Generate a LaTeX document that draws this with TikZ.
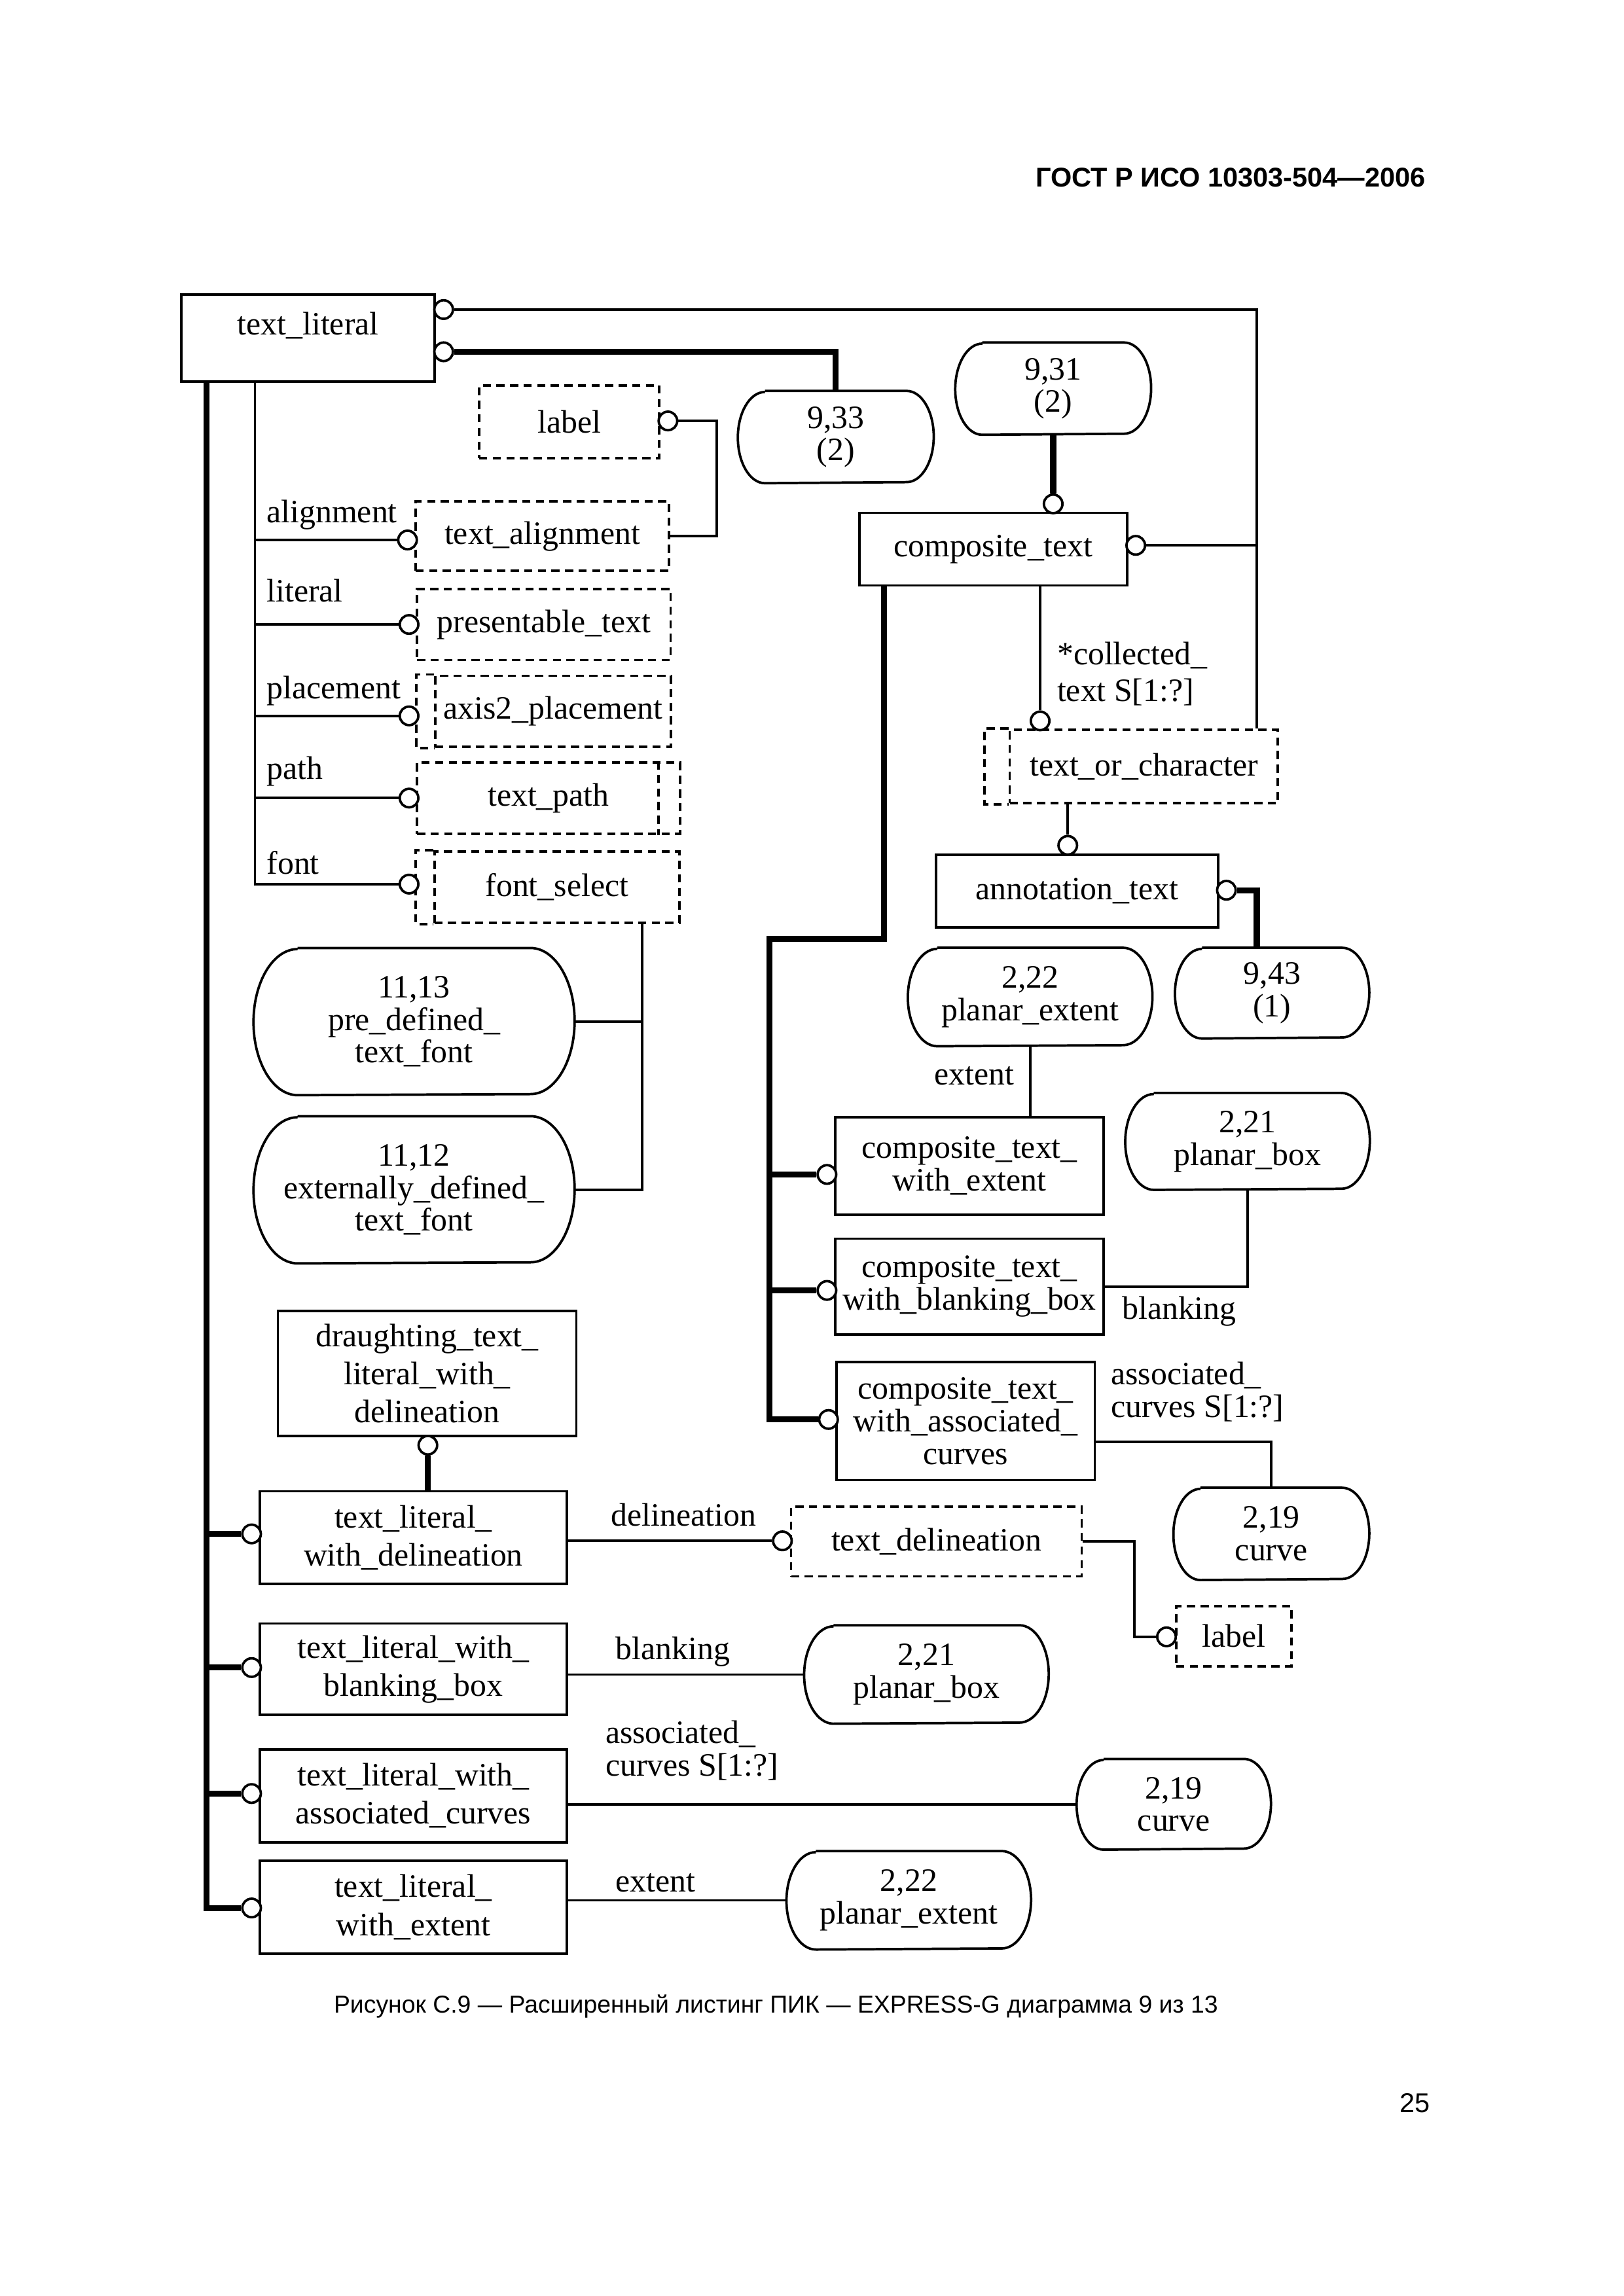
\documentclass[tikz,border=0pt]{standalone}
\usepackage{fontspec}
\setmainfont{Liberation Serif}
\newfontfamily\gostfont{Liberation Sans}
\usetikzlibrary{calc}
\tikzset{
  ent/.style={draw, line width=0.9pt, align=center, inner sep=0pt},
  typ/.style={draw, dash pattern=on 3pt off 2pt, line width=0.9pt, align=center, inner sep=0pt},
  typline/.style={dash pattern=on 3pt off 2pt, line width=0.9pt},
  extref/.style={align=center, inner sep=0pt},
  circ/.style={circle, draw, fill=white, line width=0.9pt, minimum size=0.24cm, inner sep=0pt},
  lbl/.style={inner sep=1pt, align=left},
  rel/.style={line width=0.9pt},
  inh/.style={line width=2.2pt},
}

\begin{document}
\begin{tikzpicture}[x=0.9937cm,y=0.9937cm,font=\fontsize{12}{12}\selectfont]
  \useasboundingbox (0,0) rectangle (21.133,-29.892);

  % page header, caption, page number
  \node[anchor=east, font=\gostfont\bfseries\fontsize{10}{12}\selectfont] (gost) at (18.68,-2.31) {ГОСТ Р ИСО 10303-504—2006};
  \node[font=\gostfont\fontsize{9}{11}\selectfont] (caption) at (10.10,-26.12) {Рисунок С.9 — Расширенный листинг ПИК — EXPRESS-G диаграмма 9 из 13};
  \node[font=\gostfont\fontsize{10}{12}\selectfont] (pagenum) at (18.42,-27.38) {25};

  % entities
  \node[ent, minimum width=3.28cm, minimum height=1.13cm, text depth=0.38cm] (tl) at (4.01,-4.40) {text\_literal};
  \node[ent, minimum width=3.46cm, minimum height=0.94cm] (ct) at (12.93,-7.15) {composite\_text};
  \node[ent, minimum width=3.65cm, minimum height=0.94cm] (annot) at (14.02,-11.60) {annotation\_text};
  \node[ent, minimum width=3.47cm, minimum height=1.26cm] (ctwe) at (12.62,-15.18) {composite\_text\_\\with\_extent};
  \node[ent, minimum width=3.47cm, minimum height=1.24cm] (ctwb) at (12.62,-16.75) {composite\_text\_\\with\_blanking\_box};
  \node[ent, minimum width=3.34cm, minimum height=1.53cm] (ctwa) at (12.57,-18.50) {composite\_text\_\\with\_associated\_\\curves};
  \node[ent, minimum width=3.86cm, minimum height=1.62cm] (dtl) at (5.56,-17.88) {draughting\_text\_\\[2pt]literal\_with\_\\[2pt]delineation};
  \node[ent, minimum width=3.97cm, minimum height=1.20cm] (tlwd) at (5.38,-20.02) {text\_literal\_\\[2pt]with\_delineation};
  \node[ent, minimum width=3.97cm, minimum height=1.18cm] (tlwb) at (5.38,-21.73) {text\_literal\_with\_\\[2pt]blanking\_box};
  \node[ent, minimum width=3.97cm, minimum height=1.20cm] (tlwa) at (5.38,-23.38) {text\_literal\_with\_\\[2pt]associated\_curves};
  \node[ent, minimum width=3.97cm, minimum height=1.20cm] (tlwe) at (5.38,-24.83) {text\_literal\_\\[2pt]with\_extent};

  % defined and select types
  \node[typ, minimum width=2.33cm, minimum height=0.94cm] (labA) at (7.41,-5.49) {label};
  \node[typ, minimum width=3.28cm, minimum height=0.90cm] (talign) at (7.06,-6.98) {text\_alignment};
  \node[typ, minimum width=3.28cm, minimum height=0.92cm] (ptext) at (7.08,-8.13) {presentable\_text};
  \node[typ, minimum width=3.05cm, minimum height=0.92cm] (a2p) at (7.20,-9.26) {axis2\_placement};
  \node[typ, minimum width=3.40cm, minimum height=0.92cm] (tpath) at (7.14,-10.39) {text\_path};
  \node[typ, minimum width=3.17cm, minimum height=0.92cm] (fsel) at (7.25,-11.55) {font\_select};
  \node[typ, minimum width=3.47cm, minimum height=0.95cm] (toc) at (14.89,-9.98) {text\_or\_character};
  \node[typ, minimum width=3.76cm, minimum height=0.90cm] (tdel) at (12.19,-20.07) {text\_delineation};
  \node[typ, minimum width=1.49cm, minimum height=0.78cm] (labB) at (16.06,-21.30) {label};
  \foreach \bx/\dx in {a2p/0.23, fsel/0.23, toc/0.31}
    \draw[typline] (\bx.north west) -- ++(-\dx,0) |- (\bx.south west);
  \draw[typline] ([xshift=-0.29cm]tpath.north east) -- ([xshift=-0.29cm]tpath.south east);

  % references to other pages
  \node[extref, minimum width=2.52cm, minimum height=1.18cm] (r933) at (10.88,-5.69) {9,33\\(2)};
  \node[extref, minimum width=2.52cm, minimum height=1.18cm] (r931) at (13.71,-5.06) {9,31\\(2)};
  \node[extref, minimum width=2.50cm, minimum height=1.16cm] (r943) at (16.56,-12.93) {9,43\\(1)};
  \node[extref, minimum width=3.15cm, minimum height=1.26cm] (r222a) at (13.41,-12.98) {2,22\\planar\_extent};
  \node[extref, minimum width=3.15cm, minimum height=1.24cm] (r221a) at (16.24,-14.86) {2,21\\planar\_box};
  \node[extref, minimum width=2.52cm, minimum height=1.18cm] (r219a) at (16.55,-19.97) {2,19\\curve};
  \node[extref, minimum width=4.14cm, minimum height=1.89cm] (r1113) at (5.39,-13.30) {11,13\\pre\_defined\_\\text\_font};
  \node[extref, minimum width=4.14cm, minimum height=1.89cm] (r1112) at (5.39,-15.49) {11,12\\externally\_defined\_\\text\_font};
  \node[extref, minimum width=3.15cm, minimum height=1.26cm] (r221b) at (12.06,-21.80) {2,21\\planar\_box};
  \node[extref, minimum width=2.50cm, minimum height=1.16cm] (r219b) at (15.28,-23.49) {2,19\\curve};
  \node[extref, minimum width=3.15cm, minimum height=1.26cm] (r222b) at (11.83,-24.74) {2,22\\planar\_extent};
  \foreach \bx/\rx/\ry in {r933/0.35/0.59, r931/0.35/0.59, r943/0.35/0.58, r222a/0.38/0.63,
      r221a/0.37/0.62, r219a/0.35/0.59, r1113/0.57/0.945, r1112/0.57/0.945,
      r221b/0.38/0.63, r219b/0.35/0.58, r222b/0.38/0.63}
    \draw[rel] ([xshift=\rx cm]\bx.north west) -- ([xshift=-\rx cm]\bx.north east)
      arc[start angle=90, end angle=-90, x radius=\rx cm, y radius=\ry cm]
      -- ([xshift=\rx cm]\bx.south west)
      arc[start angle=270, end angle=90, x radius=\rx cm, y radius=\ry cm];

  % relation circles
  \node[circ] (otla) at (5.775,-4.03) {};
  \node[circ] (otlb) at (5.775,-4.58) {};
  \node[circ] (octt) at (13.71,-6.56) {};
  \node[circ] (octr) at (14.785,-7.10) {};
  \node[circ] (otoc) at (13.54,-9.385) {};
  \node[circ] (oant) at (13.90,-11.005) {};
  \node[circ] (oanr) at (15.965,-11.59) {};
  \node[circ] (olab) at (8.695,-5.48) {};
  \node[circ] (oali) at (5.305,-7.03) {};
  \node[circ] (opte) at (5.325,-8.13) {};
  \node[circ] (oa2p) at (5.325,-9.32) {};
  \node[circ] (opat) at (5.325,-10.39) {};
  \node[circ] (ofse) at (5.325,-11.51) {};
  \node[circ] (octwe) at (10.765,-15.29) {};
  \node[circ] (octwb) at (10.765,-16.80) {};
  \node[circ] (octwa) at (10.785,-18.48) {};
  \node[circ] (odtl) at (5.57,-18.815) {};
  \node[circ] (otlwd) at (3.275,-19.97) {};
  \node[circ] (otlwb) at (3.275,-21.71) {};
  \node[circ] (otlwa) at (3.275,-23.35) {};
  \node[circ] (otlwe) at (3.275,-24.84) {};
  \node[circ] (otdel) at (10.185,-20.06) {};
  \node[circ] (olabB) at (15.185,-21.31) {};

  % bend points
  \coordinate (tocjoin) at ([xshift=-0.29cm]toc.north east);
  \coordinate (attrtop) at (3.32,-4.96);
  \coordinate (inhtop) at (2.69,-4.96);
  \coordinate (fj) at (8.36,-12.01);
  \coordinate (ctout) at (11.51,-7.62);
  \coordinate (ctbend) at (10.02,-12.22);

  % connectors
  \draw[rel] (otla.east) -| (tocjoin);
  \draw[rel] (octr.east) -- (octr.east -| tocjoin);
  \draw[inh] (otlb.east) -| (r933.north);
  \draw[inh] (r931.south) -- (octt.north);
  \draw[rel] (otoc.north) -- (otoc.north |- ct.south);
  \draw[rel] (oant.north) -- (oant.north |- toc.south);
  \draw[inh] (oanr.east) -| (r943.north -| tocjoin);
  \draw[rel] (olab.east) -- ++(0.5,0) |- (talign.east);
  \draw[rel] (attrtop) |- (ofse.west);
  \foreach \c in {oali,opte,oa2p,opat}
    \draw[rel] (\c.west) -- (\c.west -| attrtop);
  \draw[rel] (fj) |- (r1112.east);
  \draw[rel] (r1113.east) -- (r1113.east -| fj);
  \draw[inh] (ctout) |- (ctbend) |- (octwa.west);
  \foreach \c in {octwe,octwb}
    \draw[inh] (\c.west) -- (\c.west -| ctbend);
  \draw[rel] (r222a.south) -- (r222a.south |- ctwe.north);
  \draw[rel] (r221a.south) |- (ctwb.east);
  \draw[rel] ([yshift=-0.27cm]ctwa.east) -| (r219a.north);
  \draw[inh] (inhtop) |- (otlwe.west);
  \foreach \c in {otlwd,otlwb,otlwa}
    \draw[inh] (\c.west) -- (\c.west -| inhtop);
  \draw[inh] (odtl.south) -- (odtl.south |- tlwd.north);
  \draw[rel] (otdel.west) -- (otdel.west -| tlwd.east);
  \draw[rel] (tdel.east) -- ++(0.67,0) |- (olabB.west);
  \draw[rel] (r221b.west) -- (r221b.west -| tlwb.east);
  \draw[rel] (r219b.west) -- (r219b.west -| tlwa.east);
  \draw[rel] (r222b.west) -- (r222b.west -| tlwe.east);

  % attribute names
  \node[lbl, anchor=west] (nali) at (3.43,-6.70) {alignment};
  \node[lbl, anchor=west] (nlit) at (3.43,-7.69) {literal};
  \node[lbl, anchor=west] (npla) at (3.43,-8.99) {placement};
  \node[lbl, anchor=west] (npat) at (3.43,-10.04) {path};
  \node[lbl, anchor=west] (nfon) at (3.43,-11.23) {font};
  \node[lbl, anchor=west] (ncol) at (13.72,-8.77) {*collected\_\\[1.5pt]text S[1:?]};
  \node[lbl] (nexa) at (12.68,-14.01) {extent};
  \node[lbl] (nbla) at (15.35,-17.07) {blanking};
  \node[lbl, anchor=west] (nasa) at (14.42,-18.12) {associated\_\\curves S[1:?]};
  \node[lbl] (ndel) at (8.90,-19.72) {delineation};
  \node[lbl] (nblb) at (8.76,-21.50) {blanking};
  \node[lbl, anchor=west] (nasb) at (7.84,-22.79) {associated\_\\curves S[1:?]};
  \node[lbl] (nexb) at (8.53,-24.51) {extent};
\end{tikzpicture}
\end{document}
